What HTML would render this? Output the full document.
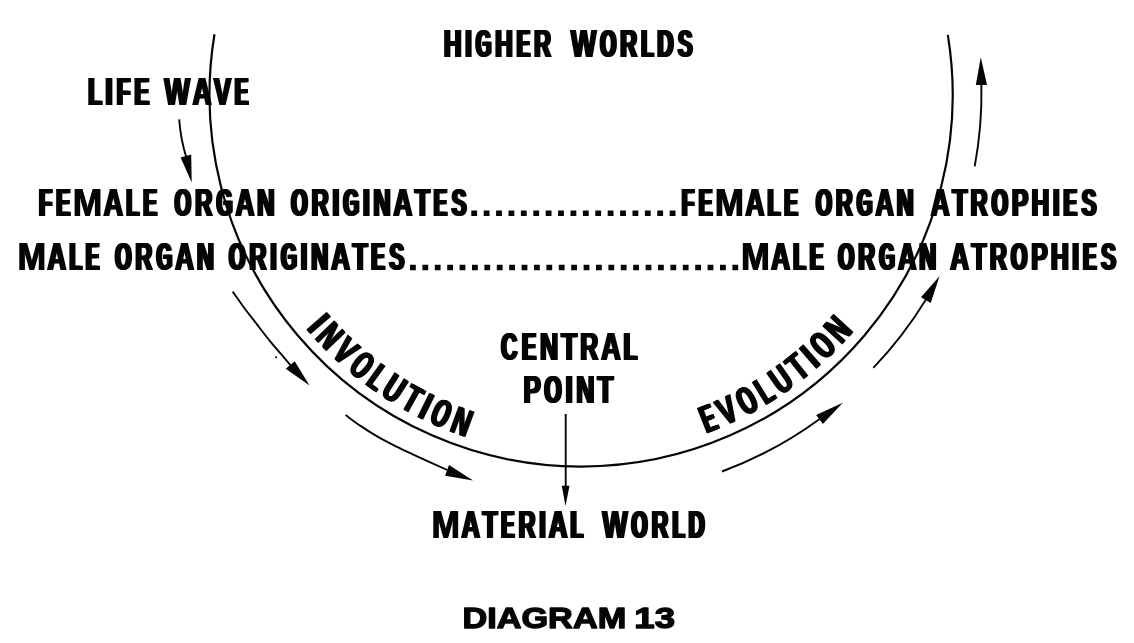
<!DOCTYPE html>
<html lang="en">
<head>
<meta charset="utf-8">
<title>Diagram 13</title>
<style>
html,body{margin:0;padding:0;background:#fff;}
body{width:1134px;height:643px;overflow:hidden;}
svg{display:block;will-change:transform;filter:grayscale(1);}
svg text{font-family:"Liberation Sans",sans-serif;font-weight:bold;fill:#050505;}
svg .m text{font-family:"Liberation Mono",monospace;}
</style>
</head>
<body>
<svg width="1134" height="643" viewBox="0 0 1134 643">
<rect width="1134" height="643" fill="#fff"/>
<path d="M214.49 34.30 A371.60 371.60 0 1 0 947.81 34.90" fill="none" stroke="#050505" stroke-width="2.2"/>
<g><!-- HIGHER -->
<g font-size="39.24"><text transform="translate(442.56,57.10) scale(0.6237,1)">H</text><text transform="translate(443.90,57.10) scale(0.6237,1)">H</text><text transform="translate(445.24,57.10) scale(0.6237,1)">H</text></g>
<g font-size="39.24"><text transform="translate(463.65,57.10) scale(0.6200,1)">I</text><text transform="translate(465.06,57.10) scale(0.6200,1)">I</text><text transform="translate(466.47,57.10) scale(0.6200,1)">I</text></g>
<g font-size="40.99" class="m"><text transform="translate(474.00,57.10) scale(0.6942,1)">G</text><text transform="translate(475.05,57.10) scale(0.6942,1)">G</text><text transform="translate(476.10,57.10) scale(0.6942,1)">G</text></g>
<g font-size="39.24"><text transform="translate(493.85,57.10) scale(0.6237,1)">H</text><text transform="translate(495.19,57.10) scale(0.6237,1)">H</text><text transform="translate(496.53,57.10) scale(0.6237,1)">H</text></g>
<g font-size="39.24"><text transform="translate(515.28,57.10) scale(0.4921,1)">E</text><text transform="translate(516.99,57.10) scale(0.4921,1)">E</text><text transform="translate(518.69,57.10) scale(0.4921,1)">E</text></g>
<g font-size="39.24"><text transform="translate(532.77,57.10) scale(0.5954,1)">R</text><text transform="translate(534.19,57.10) scale(0.5954,1)">R</text><text transform="translate(535.61,57.10) scale(0.5954,1)">R</text></g>
</g>
<g><!-- WORLDS -->
<g font-size="39.24"><text transform="translate(569.77,57.10) scale(0.6856,1)">W</text><text transform="translate(570.94,57.10) scale(0.6856,1)">W</text><text transform="translate(572.10,57.10) scale(0.6856,1)">W</text></g>
<g font-size="40.99" class="m"><text transform="translate(598.45,57.10) scale(0.7110,1)">O</text><text transform="translate(599.45,57.10) scale(0.7110,1)">O</text><text transform="translate(600.45,57.10) scale(0.7110,1)">O</text></g>
<g font-size="39.24"><text transform="translate(618.86,57.10) scale(0.5942,1)">R</text><text transform="translate(620.28,57.10) scale(0.5942,1)">R</text><text transform="translate(621.70,57.10) scale(0.5942,1)">R</text></g>
<g font-size="39.24"><text transform="translate(639.74,57.10) scale(0.5062,1)">L</text><text transform="translate(641.41,57.10) scale(0.5062,1)">L</text><text transform="translate(643.08,57.10) scale(0.5062,1)">L</text></g>
<g font-size="40.99" class="m"><text transform="translate(655.33,57.10) scale(0.7325,1)">D</text><text transform="translate(656.27,57.10) scale(0.7325,1)">D</text><text transform="translate(657.21,57.10) scale(0.7325,1)">D</text></g>
<g font-size="40.99" class="m"><text transform="translate(676.50,57.10) scale(0.6089,1)">S</text><text transform="translate(677.80,57.10) scale(0.6089,1)">S</text><text transform="translate(679.10,57.10) scale(0.6089,1)">S</text></g>
</g>
<g><!-- LIFE -->
<g font-size="39.24"><text transform="translate(86.80,104.70) scale(0.5722,1)">L</text><text transform="translate(88.28,104.70) scale(0.5722,1)">L</text><text transform="translate(89.76,104.70) scale(0.5722,1)">L</text></g>
<g font-size="39.24"><text transform="translate(104.06,104.70) scale(0.6200,1)">I</text><text transform="translate(105.69,104.70) scale(0.6200,1)">I</text><text transform="translate(107.32,104.70) scale(0.6200,1)">I</text></g>
<g font-size="39.24"><text transform="translate(115.26,104.70) scale(0.5664,1)">F</text><text transform="translate(116.75,104.70) scale(0.5664,1)">F</text><text transform="translate(118.25,104.70) scale(0.5664,1)">F</text></g>
<g font-size="39.24"><text transform="translate(133.11,104.70) scale(0.5525,1)">E</text><text transform="translate(134.65,104.70) scale(0.5525,1)">E</text><text transform="translate(136.19,104.70) scale(0.5525,1)">E</text></g>
</g>
<g><!-- WAVE -->
<g font-size="39.24"><text transform="translate(163.27,104.70) scale(0.6918,1)">W</text><text transform="translate(164.42,104.70) scale(0.6918,1)">W</text><text transform="translate(165.56,104.70) scale(0.6918,1)">W</text></g>
<g font-size="39.24"><text transform="translate(191.53,104.70) scale(0.6570,1)">A</text><text transform="translate(192.77,104.70) scale(0.6570,1)">A</text><text transform="translate(194.01,104.70) scale(0.6570,1)">A</text></g>
<g font-size="39.24"><text transform="translate(212.79,104.70) scale(0.6494,1)">V</text><text transform="translate(214.05,104.70) scale(0.6494,1)">V</text><text transform="translate(215.32,104.70) scale(0.6494,1)">V</text></g>
<g font-size="39.24"><text transform="translate(233.36,104.70) scale(0.4970,1)">E</text><text transform="translate(235.06,104.70) scale(0.4970,1)">E</text><text transform="translate(236.75,104.70) scale(0.4970,1)">E</text></g>
</g>
<g><!-- FEMALE -->
<g font-size="39.24"><text transform="translate(37.49,216.10) scale(0.5364,1)">F</text><text transform="translate(39.08,216.10) scale(0.5364,1)">F</text><text transform="translate(40.66,216.10) scale(0.5364,1)">F</text></g>
<g font-size="39.24"><text transform="translate(54.81,216.10) scale(0.5246,1)">E</text><text transform="translate(56.42,216.10) scale(0.5246,1)">E</text><text transform="translate(58.04,216.10) scale(0.5246,1)">E</text></g>
<g font-size="39.24"><text transform="translate(72.23,216.10) scale(0.9053,1)">M</text><text transform="translate(72.78,216.10) scale(0.9053,1)">M</text><text transform="translate(73.32,216.10) scale(0.9053,1)">M</text></g>
<g font-size="39.24"><text transform="translate(102.47,216.10) scale(0.6871,1)">A</text><text transform="translate(103.63,216.10) scale(0.6871,1)">A</text><text transform="translate(104.78,216.10) scale(0.6871,1)">A</text></g>
<g font-size="39.24"><text transform="translate(124.73,216.10) scale(0.5423,1)">L</text><text transform="translate(126.29,216.10) scale(0.5423,1)">L</text><text transform="translate(127.86,216.10) scale(0.5423,1)">L</text></g>
<g font-size="39.24"><text transform="translate(141.64,216.10) scale(0.5246,1)">E</text><text transform="translate(143.26,216.10) scale(0.5246,1)">E</text><text transform="translate(144.87,216.10) scale(0.5246,1)">E</text></g>
</g>
<g><!-- ORGAN -->
<g font-size="40.99" class="m"><text transform="translate(172.95,216.10) scale(0.7296,1)">O</text><text transform="translate(173.89,216.10) scale(0.7296,1)">O</text><text transform="translate(174.84,216.10) scale(0.7296,1)">O</text></g>
<g font-size="39.24"><text transform="translate(193.70,216.10) scale(0.6096,1)">R</text><text transform="translate(195.08,216.10) scale(0.6096,1)">R</text><text transform="translate(196.46,216.10) scale(0.6096,1)">R</text></g>
<g font-size="40.99" class="m"><text transform="translate(214.65,216.10) scale(0.7113,1)">G</text><text transform="translate(215.65,216.10) scale(0.7113,1)">G</text><text transform="translate(216.65,216.10) scale(0.7113,1)">G</text></g>
<g font-size="39.24"><text transform="translate(234.30,216.10) scale(0.6664,1)">A</text><text transform="translate(235.52,216.10) scale(0.6664,1)">A</text><text transform="translate(236.74,216.10) scale(0.6664,1)">A</text></g>
<g font-size="39.24"><text transform="translate(255.86,216.10) scale(0.6154,1)">N</text><text transform="translate(257.22,216.10) scale(0.6154,1)">N</text><text transform="translate(258.59,216.10) scale(0.6154,1)">N</text></g>
</g>
<g><!-- ORIGINATES -->
<g font-size="40.99" class="m"><text transform="translate(289.56,216.10) scale(0.7228,1)">O</text><text transform="translate(290.52,216.10) scale(0.7228,1)">O</text><text transform="translate(291.49,216.10) scale(0.7228,1)">O</text></g>
<g font-size="39.24"><text transform="translate(310.19,216.10) scale(0.6040,1)">R</text><text transform="translate(311.58,216.10) scale(0.6040,1)">R</text><text transform="translate(312.98,216.10) scale(0.6040,1)">R</text></g>
<g font-size="39.24"><text transform="translate(331.02,216.10) scale(0.6200,1)">I</text><text transform="translate(332.46,216.10) scale(0.6200,1)">I</text><text transform="translate(333.90,216.10) scale(0.6200,1)">I</text></g>
<g font-size="40.99" class="m"><text transform="translate(341.45,216.10) scale(0.7046,1)">G</text><text transform="translate(342.47,216.10) scale(0.7046,1)">G</text><text transform="translate(343.49,216.10) scale(0.7046,1)">G</text></g>
<g font-size="39.24"><text transform="translate(361.52,216.10) scale(0.6200,1)">I</text><text transform="translate(362.96,216.10) scale(0.6200,1)">I</text><text transform="translate(364.39,216.10) scale(0.6200,1)">I</text></g>
<g font-size="39.24"><text transform="translate(371.98,216.10) scale(0.6096,1)">N</text><text transform="translate(373.36,216.10) scale(0.6096,1)">N</text><text transform="translate(374.73,216.10) scale(0.6096,1)">N</text></g>
<g font-size="39.24"><text transform="translate(392.29,216.10) scale(0.6606,1)">A</text><text transform="translate(393.52,216.10) scale(0.6606,1)">A</text><text transform="translate(394.75,216.10) scale(0.6606,1)">A</text></g>
<g font-size="39.24"><text transform="translate(413.53,216.10) scale(0.6257,1)">T</text><text transform="translate(414.86,216.10) scale(0.6257,1)">T</text><text transform="translate(416.19,216.10) scale(0.6257,1)">T</text></g>
<g font-size="39.24"><text transform="translate(432.15,216.10) scale(0.5003,1)">E</text><text transform="translate(433.83,216.10) scale(0.5003,1)">E</text><text transform="translate(435.52,216.10) scale(0.5003,1)">E</text></g>
<g font-size="40.99" class="m"><text transform="translate(450.31,216.10) scale(0.6194,1)">S</text><text transform="translate(451.59,216.10) scale(0.6194,1)">S</text><text transform="translate(452.86,216.10) scale(0.6194,1)">S</text></g>
</g>
<g><!-- FEMALE -->
<g font-size="39.24"><text transform="translate(680.13,216.10) scale(0.5225,1)">F</text><text transform="translate(681.75,216.10) scale(0.5225,1)">F</text><text transform="translate(683.37,216.10) scale(0.5225,1)">F</text></g>
<g font-size="39.24"><text transform="translate(697.19,216.10) scale(0.5116,1)">E</text><text transform="translate(698.85,216.10) scale(0.5116,1)">E</text><text transform="translate(700.50,216.10) scale(0.5116,1)">E</text></g>
<g font-size="39.24"><text transform="translate(714.37,216.10) scale(0.8883,1)">M</text><text transform="translate(714.96,216.10) scale(0.8883,1)">M</text><text transform="translate(715.55,216.10) scale(0.8883,1)">M</text></g>
<g font-size="39.24"><text transform="translate(744.16,216.10) scale(0.6730,1)">A</text><text transform="translate(745.36,216.10) scale(0.6730,1)">A</text><text transform="translate(746.56,216.10) scale(0.6730,1)">A</text></g>
<g font-size="39.24"><text transform="translate(766.11,216.10) scale(0.5284,1)">L</text><text transform="translate(767.72,216.10) scale(0.5284,1)">L</text><text transform="translate(769.33,216.10) scale(0.5284,1)">L</text></g>
<g font-size="39.24"><text transform="translate(782.78,216.10) scale(0.5116,1)">E</text><text transform="translate(784.44,216.10) scale(0.5116,1)">E</text><text transform="translate(786.09,216.10) scale(0.5116,1)">E</text></g>
</g>
<g><!-- ORGAN -->
<g font-size="40.99" class="m"><text transform="translate(814.29,216.10) scale(0.7039,1)">O</text><text transform="translate(815.31,216.10) scale(0.7039,1)">O</text><text transform="translate(816.33,216.10) scale(0.7039,1)">O</text></g>
<g font-size="39.24"><text transform="translate(834.57,216.10) scale(0.5882,1)">R</text><text transform="translate(836.01,216.10) scale(0.5882,1)">R</text><text transform="translate(837.45,216.10) scale(0.5882,1)">R</text></g>
<g font-size="40.99" class="m"><text transform="translate(855.04,216.10) scale(0.6856,1)">G</text><text transform="translate(856.11,216.10) scale(0.6856,1)">G</text><text transform="translate(857.19,216.10) scale(0.6856,1)">G</text></g>
<g font-size="39.24"><text transform="translate(874.23,216.10) scale(0.6442,1)">A</text><text transform="translate(875.51,216.10) scale(0.6442,1)">A</text><text transform="translate(876.79,216.10) scale(0.6442,1)">A</text></g>
<g font-size="39.24"><text transform="translate(895.31,216.10) scale(0.5932,1)">N</text><text transform="translate(896.73,216.10) scale(0.5932,1)">N</text><text transform="translate(898.16,216.10) scale(0.5932,1)">N</text></g>
</g>
<g><!-- ATROPHIES -->
<g font-size="39.24"><text transform="translate(929.86,216.10) scale(0.6567,1)">A</text><text transform="translate(931.10,216.10) scale(0.6567,1)">A</text><text transform="translate(932.35,216.10) scale(0.6567,1)">A</text></g>
<g font-size="39.24"><text transform="translate(951.01,216.10) scale(0.6217,1)">T</text><text transform="translate(952.36,216.10) scale(0.6217,1)">T</text><text transform="translate(953.70,216.10) scale(0.6217,1)">T</text></g>
<g font-size="39.24"><text transform="translate(969.29,216.10) scale(0.6003,1)">R</text><text transform="translate(970.69,216.10) scale(0.6003,1)">R</text><text transform="translate(972.09,216.10) scale(0.6003,1)">R</text></g>
<g font-size="40.99" class="m"><text transform="translate(990.11,216.10) scale(0.7183,1)">O</text><text transform="translate(991.09,216.10) scale(0.7183,1)">O</text><text transform="translate(992.07,216.10) scale(0.7183,1)">O</text></g>
<g font-size="39.24"><text transform="translate(1010.59,216.10) scale(0.6251,1)">P</text><text transform="translate(1011.93,216.10) scale(0.6251,1)">P</text><text transform="translate(1013.26,216.10) scale(0.6251,1)">P</text></g>
<g font-size="39.24"><text transform="translate(1030.16,216.10) scale(0.6289,1)">H</text><text transform="translate(1031.48,216.10) scale(0.6289,1)">H</text><text transform="translate(1032.81,216.10) scale(0.6289,1)">H</text></g>
<g font-size="39.24"><text transform="translate(1051.38,216.10) scale(0.6200,1)">I</text><text transform="translate(1052.80,216.10) scale(0.6200,1)">I</text><text transform="translate(1054.23,216.10) scale(0.6200,1)">I</text></g>
<g font-size="39.24"><text transform="translate(1062.09,216.10) scale(0.4967,1)">E</text><text transform="translate(1063.79,216.10) scale(0.4967,1)">E</text><text transform="translate(1065.48,216.10) scale(0.4967,1)">E</text></g>
<g font-size="40.99" class="m"><text transform="translate(1080.18,216.10) scale(0.6154,1)">S</text><text transform="translate(1081.47,216.10) scale(0.6154,1)">S</text><text transform="translate(1082.75,216.10) scale(0.6154,1)">S</text></g>
</g>
<g><!-- MALE -->
<g font-size="39.24"><text transform="translate(17.02,270.20) scale(0.8697,1)">M</text><text transform="translate(17.66,270.20) scale(0.8697,1)">M</text><text transform="translate(18.30,270.20) scale(0.8697,1)">M</text></g>
<g font-size="39.24"><text transform="translate(46.33,270.20) scale(0.6576,1)">A</text><text transform="translate(47.57,270.20) scale(0.6576,1)">A</text><text transform="translate(48.81,270.20) scale(0.6576,1)">A</text></g>
<g font-size="39.24"><text transform="translate(67.95,270.20) scale(0.5132,1)">L</text><text transform="translate(69.60,270.20) scale(0.5132,1)">L</text><text transform="translate(71.25,270.20) scale(0.5132,1)">L</text></g>
<g font-size="39.24"><text transform="translate(84.35,270.20) scale(0.4975,1)">E</text><text transform="translate(86.05,270.20) scale(0.4975,1)">E</text><text transform="translate(87.74,270.20) scale(0.4975,1)">E</text></g>
</g>
<g><!-- ORGAN -->
<g font-size="40.99" class="m"><text transform="translate(113.47,270.20) scale(0.7162,1)">O</text><text transform="translate(114.45,270.20) scale(0.7162,1)">O</text><text transform="translate(115.44,270.20) scale(0.7162,1)">O</text></g>
<g font-size="39.24"><text transform="translate(133.98,270.20) scale(0.5984,1)">R</text><text transform="translate(135.39,270.20) scale(0.5984,1)">R</text><text transform="translate(136.79,270.20) scale(0.5984,1)">R</text></g>
<g font-size="40.99" class="m"><text transform="translate(154.67,270.20) scale(0.6979,1)">G</text><text transform="translate(155.71,270.20) scale(0.6979,1)">G</text><text transform="translate(156.75,270.20) scale(0.6979,1)">G</text></g>
<g font-size="39.24"><text transform="translate(174.09,270.20) scale(0.6548,1)">A</text><text transform="translate(175.33,270.20) scale(0.6548,1)">A</text><text transform="translate(176.58,270.20) scale(0.6548,1)">A</text></g>
<g font-size="39.24"><text transform="translate(195.40,270.20) scale(0.6038,1)">N</text><text transform="translate(196.79,270.20) scale(0.6038,1)">N</text><text transform="translate(198.18,270.20) scale(0.6038,1)">N</text></g>
</g>
<g><!-- ORIGINATES -->
<g font-size="40.99" class="m"><text transform="translate(227.26,270.20) scale(0.7228,1)">O</text><text transform="translate(228.22,270.20) scale(0.7228,1)">O</text><text transform="translate(229.19,270.20) scale(0.7228,1)">O</text></g>
<g font-size="39.24"><text transform="translate(247.89,270.20) scale(0.6040,1)">R</text><text transform="translate(249.28,270.20) scale(0.6040,1)">R</text><text transform="translate(250.68,270.20) scale(0.6040,1)">R</text></g>
<g font-size="39.24"><text transform="translate(268.72,270.20) scale(0.6200,1)">I</text><text transform="translate(270.16,270.20) scale(0.6200,1)">I</text><text transform="translate(271.60,270.20) scale(0.6200,1)">I</text></g>
<g font-size="40.99" class="m"><text transform="translate(279.15,270.20) scale(0.7046,1)">G</text><text transform="translate(280.17,270.20) scale(0.7046,1)">G</text><text transform="translate(281.19,270.20) scale(0.7046,1)">G</text></g>
<g font-size="39.24"><text transform="translate(299.22,270.20) scale(0.6200,1)">I</text><text transform="translate(300.66,270.20) scale(0.6200,1)">I</text><text transform="translate(302.09,270.20) scale(0.6200,1)">I</text></g>
<g font-size="39.24"><text transform="translate(309.68,270.20) scale(0.6096,1)">N</text><text transform="translate(311.06,270.20) scale(0.6096,1)">N</text><text transform="translate(312.43,270.20) scale(0.6096,1)">N</text></g>
<g font-size="39.24"><text transform="translate(329.99,270.20) scale(0.6606,1)">A</text><text transform="translate(331.22,270.20) scale(0.6606,1)">A</text><text transform="translate(332.45,270.20) scale(0.6606,1)">A</text></g>
<g font-size="39.24"><text transform="translate(351.23,270.20) scale(0.6257,1)">T</text><text transform="translate(352.56,270.20) scale(0.6257,1)">T</text><text transform="translate(353.89,270.20) scale(0.6257,1)">T</text></g>
<g font-size="39.24"><text transform="translate(369.85,270.20) scale(0.5003,1)">E</text><text transform="translate(371.53,270.20) scale(0.5003,1)">E</text><text transform="translate(373.22,270.20) scale(0.5003,1)">E</text></g>
<g font-size="40.99" class="m"><text transform="translate(388.01,270.20) scale(0.6194,1)">S</text><text transform="translate(389.29,270.20) scale(0.6194,1)">S</text><text transform="translate(390.56,270.20) scale(0.6194,1)">S</text></g>
</g>
<g><!-- MALE -->
<g font-size="39.24"><text transform="translate(740.60,270.20) scale(0.8754,1)">M</text><text transform="translate(741.23,270.20) scale(0.8754,1)">M</text><text transform="translate(741.85,270.20) scale(0.8754,1)">M</text></g>
<g font-size="39.24"><text transform="translate(770.06,270.20) scale(0.6623,1)">A</text><text transform="translate(771.29,270.20) scale(0.6623,1)">A</text><text transform="translate(772.52,270.20) scale(0.6623,1)">A</text></g>
<g font-size="39.24"><text transform="translate(791.78,270.20) scale(0.5179,1)">L</text><text transform="translate(793.42,270.20) scale(0.5179,1)">L</text><text transform="translate(795.06,270.20) scale(0.5179,1)">L</text></g>
<g font-size="39.24"><text transform="translate(808.27,270.20) scale(0.5019,1)">E</text><text transform="translate(809.95,270.20) scale(0.5019,1)">E</text><text transform="translate(811.63,270.20) scale(0.5019,1)">E</text></g>
</g>
<g><!-- ORGAN -->
<g font-size="40.99" class="m"><text transform="translate(836.48,270.20) scale(0.7083,1)">O</text><text transform="translate(837.49,270.20) scale(0.7083,1)">O</text><text transform="translate(838.50,270.20) scale(0.7083,1)">O</text></g>
<g font-size="39.24"><text transform="translate(856.85,270.20) scale(0.5920,1)">R</text><text transform="translate(858.27,270.20) scale(0.5920,1)">R</text><text transform="translate(859.70,270.20) scale(0.5920,1)">R</text></g>
<g font-size="40.99" class="m"><text transform="translate(877.40,270.20) scale(0.6901,1)">G</text><text transform="translate(878.46,270.20) scale(0.6901,1)">G</text><text transform="translate(879.52,270.20) scale(0.6901,1)">G</text></g>
<g font-size="39.24"><text transform="translate(896.67,270.20) scale(0.6481,1)">A</text><text transform="translate(897.93,270.20) scale(0.6481,1)">A</text><text transform="translate(899.20,270.20) scale(0.6481,1)">A</text></g>
<g font-size="39.24"><text transform="translate(917.83,270.20) scale(0.5971,1)">N</text><text transform="translate(919.24,270.20) scale(0.5971,1)">N</text><text transform="translate(920.66,270.20) scale(0.5971,1)">N</text></g>
</g>
<g><!-- ATROPHIES -->
<g font-size="39.24"><text transform="translate(948.96,270.20) scale(0.6590,1)">A</text><text transform="translate(950.19,270.20) scale(0.6590,1)">A</text><text transform="translate(951.43,270.20) scale(0.6590,1)">A</text></g>
<g font-size="39.24"><text transform="translate(970.16,270.20) scale(0.6241,1)">T</text><text transform="translate(971.50,270.20) scale(0.6241,1)">T</text><text transform="translate(972.83,270.20) scale(0.6241,1)">T</text></g>
<g font-size="39.24"><text transform="translate(988.48,270.20) scale(0.6025,1)">R</text><text transform="translate(989.88,270.20) scale(0.6025,1)">R</text><text transform="translate(991.27,270.20) scale(0.6025,1)">R</text></g>
<g font-size="40.99" class="m"><text transform="translate(1009.35,270.20) scale(0.7210,1)">O</text><text transform="translate(1010.32,270.20) scale(0.7210,1)">O</text><text transform="translate(1011.30,270.20) scale(0.7210,1)">O</text></g>
<g font-size="39.24"><text transform="translate(1029.88,270.20) scale(0.6275,1)">P</text><text transform="translate(1031.21,270.20) scale(0.6275,1)">P</text><text transform="translate(1032.54,270.20) scale(0.6275,1)">P</text></g>
<g font-size="39.24"><text transform="translate(1049.50,270.20) scale(0.6313,1)">H</text><text transform="translate(1050.81,270.20) scale(0.6313,1)">H</text><text transform="translate(1052.13,270.20) scale(0.6313,1)">H</text></g>
<g font-size="39.24"><text transform="translate(1070.77,270.20) scale(0.6200,1)">I</text><text transform="translate(1072.20,270.20) scale(0.6200,1)">I</text><text transform="translate(1073.64,270.20) scale(0.6200,1)">I</text></g>
<g font-size="39.24"><text transform="translate(1081.51,270.20) scale(0.4988,1)">E</text><text transform="translate(1083.20,270.20) scale(0.4988,1)">E</text><text transform="translate(1084.89,270.20) scale(0.4988,1)">E</text></g>
<g font-size="40.99" class="m"><text transform="translate(1099.64,270.20) scale(0.6178,1)">S</text><text transform="translate(1100.92,270.20) scale(0.6178,1)">S</text><text transform="translate(1102.19,270.20) scale(0.6178,1)">S</text></g>
</g>
<g><!-- CENTRAL -->
<g font-size="40.99" class="m"><text transform="translate(499.44,360.00) scale(0.7266,1)">C</text><text transform="translate(500.39,360.00) scale(0.7266,1)">C</text><text transform="translate(501.35,360.00) scale(0.7266,1)">C</text></g>
<g font-size="39.24"><text transform="translate(520.45,360.00) scale(0.5292,1)">E</text><text transform="translate(522.06,360.00) scale(0.5292,1)">E</text><text transform="translate(523.66,360.00) scale(0.5292,1)">E</text></g>
<g font-size="39.24"><text transform="translate(538.68,360.00) scale(0.6414,1)">N</text><text transform="translate(539.97,360.00) scale(0.6414,1)">N</text><text transform="translate(541.26,360.00) scale(0.6414,1)">N</text></g>
<g font-size="39.24"><text transform="translate(560.06,360.00) scale(0.6579,1)">T</text><text transform="translate(561.31,360.00) scale(0.6579,1)">T</text><text transform="translate(562.55,360.00) scale(0.6579,1)">T</text></g>
<g font-size="39.24"><text transform="translate(578.99,360.00) scale(0.6344,1)">R</text><text transform="translate(580.30,360.00) scale(0.6344,1)">R</text><text transform="translate(581.60,360.00) scale(0.6344,1)">R</text></g>
<g font-size="39.24"><text transform="translate(599.97,360.00) scale(0.6922,1)">A</text><text transform="translate(601.11,360.00) scale(0.6922,1)">A</text><text transform="translate(602.26,360.00) scale(0.6922,1)">A</text></g>
<g font-size="39.24"><text transform="translate(622.34,360.00) scale(0.5472,1)">L</text><text transform="translate(623.89,360.00) scale(0.5472,1)">L</text><text transform="translate(625.44,360.00) scale(0.5472,1)">L</text></g>
</g>
<g><!-- POINT -->
<g font-size="39.24"><text transform="translate(522.36,403.20) scale(0.6632,1)">P</text><text transform="translate(523.58,403.20) scale(0.6632,1)">P</text><text transform="translate(524.81,403.20) scale(0.6632,1)">P</text></g>
<g font-size="40.99" class="m"><text transform="translate(542.80,403.20) scale(0.7607,1)">O</text><text transform="translate(543.66,403.20) scale(0.7607,1)">O</text><text transform="translate(544.51,403.20) scale(0.7607,1)">O</text></g>
<g font-size="39.24"><text transform="translate(564.17,403.20) scale(0.6200,1)">I</text><text transform="translate(565.72,403.20) scale(0.6200,1)">I</text><text transform="translate(567.26,403.20) scale(0.6200,1)">I</text></g>
<g font-size="39.24"><text transform="translate(574.90,403.20) scale(0.6424,1)">N</text><text transform="translate(576.18,403.20) scale(0.6424,1)">N</text><text transform="translate(577.47,403.20) scale(0.6424,1)">N</text></g>
<g font-size="39.24"><text transform="translate(596.30,403.20) scale(0.6590,1)">T</text><text transform="translate(597.54,403.20) scale(0.6590,1)">T</text><text transform="translate(598.78,403.20) scale(0.6590,1)">T</text></g>
</g>
<g><!-- MATERIAL -->
<g font-size="39.24"><text transform="translate(431.03,537.90) scale(0.8628,1)">M</text><text transform="translate(431.70,537.90) scale(0.8628,1)">M</text><text transform="translate(432.36,537.90) scale(0.8628,1)">M</text></g>
<g font-size="39.24"><text transform="translate(460.17,537.90) scale(0.6519,1)">A</text><text transform="translate(461.43,537.90) scale(0.6519,1)">A</text><text transform="translate(462.69,537.90) scale(0.6519,1)">A</text></g>
<g font-size="39.24"><text transform="translate(481.22,537.90) scale(0.6168,1)">T</text><text transform="translate(482.58,537.90) scale(0.6168,1)">T</text><text transform="translate(483.93,537.90) scale(0.6168,1)">T</text></g>
<g font-size="39.24"><text transform="translate(499.68,537.90) scale(0.4923,1)">E</text><text transform="translate(501.39,537.90) scale(0.4923,1)">E</text><text transform="translate(503.09,537.90) scale(0.4923,1)">E</text></g>
<g font-size="39.24"><text transform="translate(517.18,537.90) scale(0.5956,1)">R</text><text transform="translate(518.59,537.90) scale(0.5956,1)">R</text><text transform="translate(520.01,537.90) scale(0.5956,1)">R</text></g>
<g font-size="39.24"><text transform="translate(537.79,537.90) scale(0.6200,1)">I</text><text transform="translate(539.21,537.90) scale(0.6200,1)">I</text><text transform="translate(540.62,537.90) scale(0.6200,1)">I</text></g>
<g font-size="39.24"><text transform="translate(547.62,537.90) scale(0.6519,1)">A</text><text transform="translate(548.88,537.90) scale(0.6519,1)">A</text><text transform="translate(550.14,537.90) scale(0.6519,1)">A</text></g>
<g font-size="39.24"><text transform="translate(569.11,537.90) scale(0.5076,1)">L</text><text transform="translate(570.78,537.90) scale(0.5076,1)">L</text><text transform="translate(572.44,537.90) scale(0.5076,1)">L</text></g>
</g>
<g><!-- WORLD -->
<g font-size="39.24"><text transform="translate(601.17,537.90) scale(0.6835,1)">W</text><text transform="translate(602.34,537.90) scale(0.6835,1)">W</text><text transform="translate(603.51,537.90) scale(0.6835,1)">W</text></g>
<g font-size="40.99" class="m"><text transform="translate(629.78,537.90) scale(0.7083,1)">O</text><text transform="translate(630.79,537.90) scale(0.7083,1)">O</text><text transform="translate(631.80,537.90) scale(0.7083,1)">O</text></g>
<g font-size="39.24"><text transform="translate(650.15,537.90) scale(0.5920,1)">R</text><text transform="translate(651.57,537.90) scale(0.5920,1)">R</text><text transform="translate(653.00,537.90) scale(0.5920,1)">R</text></g>
<g font-size="39.24"><text transform="translate(670.98,537.90) scale(0.5039,1)">L</text><text transform="translate(672.65,537.90) scale(0.5039,1)">L</text><text transform="translate(674.33,537.90) scale(0.5039,1)">L</text></g>
<g font-size="40.99" class="m"><text transform="translate(686.53,537.90) scale(0.7296,1)">D</text><text transform="translate(687.47,537.90) scale(0.7296,1)">D</text><text transform="translate(688.42,537.90) scale(0.7296,1)">D</text></g>
</g>
<path d="M471.30 210.40h5.8v5.6h-5.8zM483.70 210.40h5.8v5.6h-5.8zM496.10 210.40h5.8v5.6h-5.8zM508.50 210.40h5.8v5.6h-5.8zM520.90 210.40h5.8v5.6h-5.8zM533.30 210.40h5.8v5.6h-5.8zM545.70 210.40h5.8v5.6h-5.8zM558.10 210.40h5.8v5.6h-5.8zM570.50 210.40h5.8v5.6h-5.8zM582.90 210.40h5.8v5.6h-5.8zM595.30 210.40h5.8v5.6h-5.8zM607.70 210.40h5.8v5.6h-5.8zM620.10 210.40h5.8v5.6h-5.8zM632.50 210.40h5.8v5.6h-5.8zM644.90 210.40h5.8v5.6h-5.8zM657.30 210.40h5.8v5.6h-5.8zM669.70 210.40h5.8v5.6h-5.8z" fill="#050505"/>
<path d="M410.00 264.70h5.8v5.6h-5.8zM422.40 264.70h5.8v5.6h-5.8zM434.80 264.70h5.8v5.6h-5.8zM447.20 264.70h5.8v5.6h-5.8zM459.60 264.70h5.8v5.6h-5.8zM472.00 264.70h5.8v5.6h-5.8zM484.40 264.70h5.8v5.6h-5.8zM496.80 264.70h5.8v5.6h-5.8zM509.20 264.70h5.8v5.6h-5.8zM521.60 264.70h5.8v5.6h-5.8zM534.00 264.70h5.8v5.6h-5.8zM546.40 264.70h5.8v5.6h-5.8zM558.80 264.70h5.8v5.6h-5.8zM571.20 264.70h5.8v5.6h-5.8zM583.60 264.70h5.8v5.6h-5.8zM596.00 264.70h5.8v5.6h-5.8zM608.40 264.70h5.8v5.6h-5.8zM620.80 264.70h5.8v5.6h-5.8zM633.20 264.70h5.8v5.6h-5.8zM645.60 264.70h5.8v5.6h-5.8zM658.00 264.70h5.8v5.6h-5.8zM670.40 264.70h5.8v5.6h-5.8zM682.80 264.70h5.8v5.6h-5.8zM695.20 264.70h5.8v5.6h-5.8zM707.60 264.70h5.8v5.6h-5.8zM720.00 264.70h5.8v5.6h-5.8zM732.40 264.70h5.8v5.6h-5.8z" fill="#050505"/>
<g><!-- INVOLUTION -->
<g font-size="39.24"><g transform="translate(308.56,332.04) rotate(48.99)"><text transform="translate(-4.87,0.00) scale(0.6200,1)">I</text><text transform="translate(-3.38,0.00) scale(0.6200,1)">I</text><text transform="translate(-1.89,0.00) scale(0.6200,1)">I</text></g></g>
<g font-size="39.24"><g transform="translate(320.47,345.07) rotate(46.18)"><text transform="translate(-10.22,0.00) scale(0.6371,1)">N</text><text transform="translate(-9.02,0.00) scale(0.6371,1)">N</text><text transform="translate(-7.82,0.00) scale(0.6371,1)">N</text></g></g>
<g font-size="39.24"><g transform="translate(336.65,360.91) rotate(42.59)"><text transform="translate(-9.97,0.00) scale(0.6790,1)">V</text><text transform="translate(-8.89,0.00) scale(0.6790,1)">V</text><text transform="translate(-7.81,0.00) scale(0.6790,1)">V</text></g></g>
<g font-size="40.99" class="m"><g transform="translate(353.71,375.64) rotate(39.02)"><text transform="translate(-10.05,0.00) scale(0.7540,1)">O</text><text transform="translate(-9.27,0.00) scale(0.7540,1)">O</text><text transform="translate(-8.50,0.00) scale(0.7540,1)">O</text></g></g>
<g font-size="39.24"><g transform="translate(370.62,388.53) rotate(35.64)"><text transform="translate(-8.39,0.00) scale(0.5457,1)">L</text><text transform="translate(-6.93,0.00) scale(0.5457,1)">L</text><text transform="translate(-5.47,0.00) scale(0.5457,1)">L</text></g></g>
<g font-size="40.99" class="m"><g transform="translate(387.20,399.74) rotate(32.47)"><text transform="translate(-10.67,0.00) scale(0.8202,1)">U</text><text transform="translate(-10.09,0.00) scale(0.8202,1)">U</text><text transform="translate(-9.51,0.00) scale(0.8202,1)">U</text></g></g>
<g font-size="39.24"><g transform="translate(405.74,410.77) rotate(29.05)"><text transform="translate(-8.99,0.00) scale(0.6534,1)">T</text><text transform="translate(-7.84,0.00) scale(0.6534,1)">T</text><text transform="translate(-6.69,0.00) scale(0.6534,1)">T</text></g></g>
<g font-size="39.24"><g transform="translate(420.13,418.35) rotate(26.47)"><text transform="translate(-4.87,0.00) scale(0.6200,1)">I</text><text transform="translate(-3.38,0.00) scale(0.6200,1)">I</text><text transform="translate(-1.89,0.00) scale(0.6200,1)">I</text></g></g>
<g font-size="40.99" class="m"><g transform="translate(436.02,425.78) rotate(23.68)"><text transform="translate(-10.05,0.00) scale(0.7540,1)">O</text><text transform="translate(-9.27,0.00) scale(0.7540,1)">O</text><text transform="translate(-8.50,0.00) scale(0.7540,1)">O</text></g></g>
<g font-size="39.24"><g transform="translate(457.23,434.30) rotate(20.06)"><text transform="translate(-10.22,0.00) scale(0.6371,1)">N</text><text transform="translate(-9.02,0.00) scale(0.6371,1)">N</text><text transform="translate(-7.82,0.00) scale(0.6371,1)">N</text></g></g>
</g>
<g><!-- EVOLUTION -->
<g font-size="39.24"><g transform="translate(713.47,430.86) rotate(-21.51)"><text transform="translate(-8.70,0.00) scale(0.5271,1)">E</text><text transform="translate(-7.19,0.00) scale(0.5271,1)">E</text><text transform="translate(-5.68,0.00) scale(0.5271,1)">E</text></g></g>
<g font-size="39.24"><g transform="translate(732.87,422.55) rotate(-24.86)"><text transform="translate(-9.97,0.00) scale(0.6790,1)">V</text><text transform="translate(-8.89,0.00) scale(0.6790,1)">V</text><text transform="translate(-7.81,0.00) scale(0.6790,1)">V</text></g></g>
<g font-size="40.99" class="m"><g transform="translate(753.20,412.33) rotate(-28.47)"><text transform="translate(-10.05,0.00) scale(0.7540,1)">O</text><text transform="translate(-9.27,0.00) scale(0.7540,1)">O</text><text transform="translate(-8.50,0.00) scale(0.7540,1)">O</text></g></g>
<g font-size="39.24"><g transform="translate(771.76,401.54) rotate(-31.88)"><text transform="translate(-8.39,0.00) scale(0.5457,1)">L</text><text transform="translate(-6.93,0.00) scale(0.5457,1)">L</text><text transform="translate(-5.47,0.00) scale(0.5457,1)">L</text></g></g>
<g font-size="40.99" class="m"><g transform="translate(788.63,390.38) rotate(-35.09)"><text transform="translate(-10.67,0.00) scale(0.8202,1)">U</text><text transform="translate(-10.09,0.00) scale(0.8202,1)">U</text><text transform="translate(-9.51,0.00) scale(0.8202,1)">U</text></g></g>
<g font-size="39.24"><g transform="translate(806.07,377.33) rotate(-38.55)"><text transform="translate(-8.99,0.00) scale(0.6534,1)">T</text><text transform="translate(-7.84,0.00) scale(0.6534,1)">T</text><text transform="translate(-6.69,0.00) scale(0.6534,1)">T</text></g></g>
<g font-size="39.24"><g transform="translate(818.71,366.77) rotate(-41.16)"><text transform="translate(-4.87,0.00) scale(0.6200,1)">I</text><text transform="translate(-3.38,0.00) scale(0.6200,1)">I</text><text transform="translate(-1.89,0.00) scale(0.6200,1)">I</text></g></g>
<g font-size="40.99" class="m"><g transform="translate(831.79,354.76) rotate(-43.98)"><text transform="translate(-10.05,0.00) scale(0.7540,1)">O</text><text transform="translate(-9.27,0.00) scale(0.7540,1)">O</text><text transform="translate(-8.50,0.00) scale(0.7540,1)">O</text></g></g>
<g font-size="39.24"><g transform="translate(847.87,338.22) rotate(-47.64)"><text transform="translate(-10.22,0.00) scale(0.6371,1)">N</text><text transform="translate(-9.02,0.00) scale(0.6371,1)">N</text><text transform="translate(-7.82,0.00) scale(0.6371,1)">N</text></g></g>
</g>
<path d="M179.2 119.4Q180.6 139 186.2 157" fill="none" stroke="#050505" stroke-width="1.9"/>
<polygon points="180.6,157.5 191.2,154.4 191.7,182.4" fill="#050505"/>
<path d="M232.7 291.6C234.6 294.3 240.2 302.5 244.3 308.0C248.4 313.5 253.0 319.2 257.3 324.8C261.6 330.4 266.3 336.6 270.4 341.6C274.4 346.6 278.3 350.8 281.6 354.7C284.9 358.6 288.9 363.4 290.4 365.2" fill="none" stroke="#050505" stroke-width="1.90"/>
<polygon points="285.7,368.7 294.7,361.2 309.6,385.5" fill="#050505"/>
<path d="M345.6 415.1C348.1 416.9 355.3 422.4 360.5 425.9C365.7 429.4 370.7 432.7 376.7 436.1C382.7 439.6 389.8 443.2 396.5 446.6C403.2 450.0 408.7 452.4 417.1 456.3C425.6 460.2 442.2 467.7 447.2 470.0" fill="none" stroke="#050505" stroke-width="1.90"/>
<polygon points="449.0,465.0 445.1,475.7 473.1,480.6" fill="#050505"/>
<path d="M722.0 471.5 A402.0 402.0 0 0 0 819.7 419.0" fill="none" stroke="#050505" stroke-width="1.90"/>
<polygon points="816.1,415.1 822.9,423.9 842.8,402.8" fill="#050505"/>
<path d="M873.3 367.9 A400.0 400.0 0 0 0 925.8 299.8" fill="none" stroke="#050505" stroke-width="1.90"/>
<polygon points="921.0,297.3 930.7,303.0 939.6,275.9" fill="#050505"/>
<path d="M974.7 166.4 A400.0 400.0 0 0 0 981.4 85.0" fill="none" stroke="#050505" stroke-width="1.90"/>
<polygon points="975.8,85.0 987.0,85.0 980.8,57.3" fill="#050505"/>
<circle cx="276.1" cy="357.3" r="1.1" fill="#222"/>
<path d="M565.7 414V487" stroke="#050505" stroke-width="1.9" fill="none"/>
<polygon points="561.8,485.8 569.5,485.8 565.5,506.0" fill="#050505"/>
<g font-size="29.07" stroke="#050505" stroke-width="1.3" stroke-linejoin="round">
<text transform="translate(462.40,628.0) scale(1.1800,1)">DIAGRAM</text>
<text transform="translate(634.30,628.0) scale(1.2580,1)">13</text>
</g>
</svg>
</body>
</html>
